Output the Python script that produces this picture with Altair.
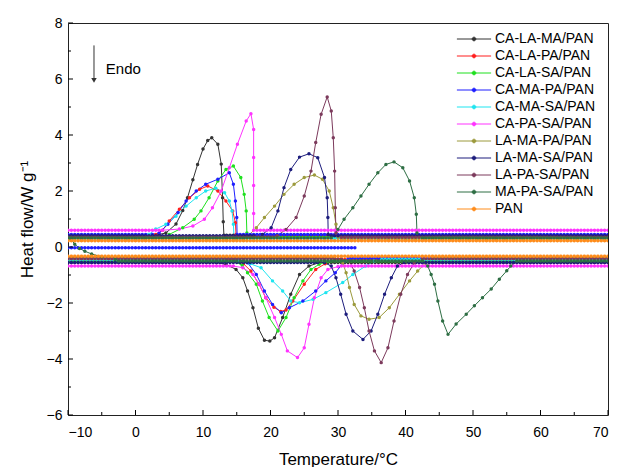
import altair as alt
import pandas as pd

# ---------------- data ----------------
SERIES = ["CA-LA-MA/PAN", "CA-LA-PA/PAN", "CA-LA-SA/PAN", "CA-MA-PA/PAN",
          "CA-MA-SA/PAN", "CA-PA-SA/PAN", "LA-MA-PA/PAN", "LA-MA-SA/PAN",
          "LA-PA-SA/PAN", "MA-PA-SA/PAN", "PAN"]
COLORS = ["#333333", "#ff1f1f", "#1fe01f", "#1f1fff", "#1fe5f0", "#ff33ff",
          "#9c9a3c", "#1c1c7c", "#7c3a5c", "#2e6e44", "#ff8c1a"]

UPPER_LEVEL = [0.42, 0.38, 0.35, 0.45, 0.30, 0.60, 0.30, 0.40, 0.35, 0.32, 0.22]
LOWER_LEVEL = [-0.55, -0.45, -0.50, -0.40, -0.45, -0.68, -0.38, -0.55, -0.42, -0.50, -0.33]

# baseline sampling temperatures (where the instrument recorded points)
GRID_T = [-10 + 0.5 * i for i in range(161)]

# heating (upper) peaks
CALAMA_HEAT_T = [3.5, 4.5, 6.0, 7.0, 7.7, 8.5, 9.2, 10.0, 10.7, 11.3, 12.2, 12.7, 12.9, 13.0, 13.1]
CALAMA_HEAT_Q = [0.45, 0.5, 0.82, 1.3, 1.76, 2.4, 2.95, 3.5, 3.8, 3.9, 3.67, 2.96, 1.76, 0.9, 0.42]
CALAPA_HEAT_T = [3.0, 4.0, 5.0, 6.5, 8.0, 9.5, 10.7, 12.2, 13.4, 14.4, 14.8, 14.9]
CALAPA_HEAT_Q = [0.45, 0.6, 0.93, 1.35, 1.76, 2.06, 2.18, 2.0, 1.64, 1.29, 0.87, 0.45]
CALASA_HEAT_T = [5.0, 7.0, 8.7, 9.7, 10.9, 12.2, 13.4, 14.5, 15.6, 16.1, 16.4, 16.5]
CALASA_HEAT_Q = [0.45, 0.69, 0.99, 1.29, 1.76, 2.36, 2.77, 2.89, 2.48, 1.88, 1.29, 0.5]
CAMAPA_HEAT_T = [2.5, 3.5, 4.8, 6.3, 7.5, 9.0, 10.4, 12.2, 13.9, 14.5, 14.8, 15.0, 15.05]
CAMAPA_HEAT_Q = [0.45, 0.5, 0.81, 1.23, 1.64, 2.0, 2.24, 2.42, 2.65, 2.24, 1.64, 1.05, 0.45]
CAMASA_HEAT_T = [2.0, 3.0, 4.5, 6.0, 7.5, 9.0, 10.4, 11.9, 13.2, 13.9, 14.3, 14.5, 14.6]
CAMASA_HEAT_Q = [0.45, 0.64, 0.81, 1.1, 1.46, 1.76, 2.0, 2.1, 1.94, 1.64, 1.29, 0.81, 0.35]
CAPASA_HEAT_T = [4.0, 6.5, 8.5, 10.2, 11.4, 12.7, 13.9, 15.1, 16.4, 17.1, 17.5, 17.5, 17.5, 17.5, 17.5]
CAPASA_HEAT_Q = [0.6, 0.64, 0.75, 0.99, 1.4, 2.0, 2.83, 3.67, 4.5, 4.76, 4.2, 3.2, 2.2, 1.2, 0.6]
LAMAPA_HEAT_T = [16.5, 17.9, 19.1, 20.6, 22.0, 23.5, 25.0, 26.5, 27.7, 28.7, 29.3, 29.7, 30.0]
LAMAPA_HEAT_Q = [0.35, 0.69, 1.05, 1.46, 1.88, 2.24, 2.48, 2.57, 2.42, 2.0, 1.4, 0.81, 0.35]
LAMASA_HEAT_T = [17.5, 18.8, 20.1, 21.1, 22.0, 23.0, 24.3, 25.7, 27.0, 28.0, 28.4, 28.5, 28.55]
LAMASA_HEAT_Q = [0.4, 0.45, 0.69, 1.29, 2.12, 2.77, 3.21, 3.33, 3.19, 2.48, 1.76, 1.05, 0.45]
LAPASA_HEAT_T = [21.0, 22.3, 23.8, 25.0, 26.0, 26.7, 27.5, 28.4, 29.0, 29.3, 29.5, 29.6, 29.7]
LAPASA_HEAT_Q = [0.4, 0.63, 1.05, 1.82, 2.71, 3.73, 4.74, 5.36, 4.86, 3.9, 2.71, 1.4, 0.5]
MAPASA_HEAT_T = [29.0, 30.0, 30.9, 32.2, 33.4, 34.6, 35.9, 37.1, 38.3, 39.6, 40.6, 41.3, 41.6, 41.7]
MAPASA_HEAT_Q = [0.32, 0.63, 0.99, 1.4, 1.82, 2.24, 2.65, 2.95, 3.04, 2.83, 2.36, 1.76, 1.17, 0.5]

# cooling (lower) peaks
CALAMA_COOL_T = [12.0, 13.4, 14.9, 15.9, 16.6, 17.4, 18.2, 19.1, 19.9, 20.6, 21.8, 23.0, 24.3, 25.7, 27.2, 28.5]
CALAMA_COOL_Q = [-0.56, -0.62, -0.8, -1.1, -1.57, -2.17, -2.9, -3.33, -3.36, -3.24, -2.52, -1.69, -0.98, -0.68, -0.56, -0.55]
CALAPA_COOL_T = [14.5, 16.0, 17.1, 18.3, 19.3, 20.5, 21.5, 22.3, 23.3, 25.0, 26.7, 28.1, 29.5]
CALAPA_COOL_Q = [-0.45, -0.6, -0.86, -1.33, -1.81, -2.15, -2.3, -2.25, -1.93, -1.33, -0.8, -0.6, -0.47]
CALASA_COOL_T = [14.5, 15.8, 16.6, 17.9, 18.8, 19.8, 21.1, 22.3, 23.5, 24.8, 26.0, 27.2, 28.5]
CALASA_COOL_Q = [-0.5, -0.65, -0.92, -1.33, -1.93, -2.52, -3.0, -2.52, -1.81, -1.21, -0.8, -0.62, -0.52]
CAMAPA_COOL_T = [15.0, 16.6, 17.9, 19.1, 20.3, 21.6, 22.8, 24.8, 26.7, 28.2, 29.6, 31.0]
CAMAPA_COOL_Q = [-0.42, -0.56, -0.98, -1.57, -2.05, -2.35, -2.17, -1.93, -1.57, -1.21, -0.92, -0.5]
CAMASA_COOL_T = [13.0, 15.4, 17.0, 18.6, 20.3, 21.8, 23.0, 24.3, 26.3, 28.2, 30.7, 32.2, 34.1, 35.4, 36.5]
CAMASA_COOL_Q = [-0.45, -0.5, -0.6, -0.74, -1.21, -1.57, -1.93, -1.99, -1.87, -1.63, -1.27, -0.98, -0.68, -0.5, -0.45]
CAPASA_COOL_T = [14.5, 15.9, 17.4, 18.3, 19.3, 20.6, 21.6, 22.5, 24.0, 25.0, 25.7, 26.5, 27.5, 28.5, 30.0]
CAPASA_COOL_Q = [-0.68, -0.74, -0.98, -1.33, -1.81, -2.52, -3.12, -3.71, -3.95, -3.6, -2.76, -1.81, -1.1, -0.8, -0.7]
LAMAPA_COOL_T = [29.5, 30.7, 31.2, 31.7, 32.4, 33.4, 34.6, 36.1, 37.6, 39.1, 40.6, 41.8, 43.0, 44.0]
LAMAPA_COOL_Q = [-0.4, -0.56, -0.92, -1.45, -2.05, -2.46, -2.58, -2.52, -2.17, -1.69, -1.21, -0.86, -0.56, -0.4]
LAMASA_COOL_T = [27.0, 28.0, 29.0, 29.7, 30.4, 31.2, 32.2, 33.7, 34.9, 35.9, 36.9, 37.9, 38.8, 39.8]
LAMASA_COOL_Q = [-0.55, -0.56, -0.68, -1.1, -1.69, -2.4, -3.0, -3.3, -3.0, -2.4, -1.69, -1.1, -0.68, -0.55]
LAPASA_COOL_T = [30.5, 31.7, 32.4, 33.2, 33.9, 34.6, 35.4, 36.4, 37.4, 38.3, 39.3, 40.3, 41.3, 42.5]
LAPASA_COOL_Q = [-0.42, -0.5, -0.86, -1.45, -2.17, -3.0, -3.71, -4.13, -3.6, -2.64, -1.69, -0.98, -0.56, -0.42]
MAPASA_COOL_T = [42.5, 43.3, 43.8, 44.3, 44.8, 45.5, 46.3, 47.5, 49.0, 50.2, 51.4, 52.7, 53.9, 55.0, 55.6, 56.5]
MAPASA_COOL_Q = [-0.5, -0.68, -0.98, -1.33, -1.93, -2.64, -3.12, -2.75, -2.4, -2.1, -1.81, -1.5, -1.15, -0.85, -0.68, -0.5]

# start of the MA-PA-SA cooling record (left edge)
MAPASA_START_T = [-9.6, -9.0, -8.3, -7.5, -6.5, -5.0, -3.0]
MAPASA_START_Q = [0.3, 0.1, -0.05, -0.15, -0.25, -0.35, -0.45]

# extra blue trace near zero
BLUE_LINE_END = 32.7
BLUE_LINE_LEVEL = -0.03

HEAT = [(CALAMA_HEAT_T, CALAMA_HEAT_Q), (CALAPA_HEAT_T, CALAPA_HEAT_Q), (CALASA_HEAT_T, CALASA_HEAT_Q),
        (CAMAPA_HEAT_T, CAMAPA_HEAT_Q), (CAMASA_HEAT_T, CAMASA_HEAT_Q), (CAPASA_HEAT_T, CAPASA_HEAT_Q),
        (LAMAPA_HEAT_T, LAMAPA_HEAT_Q), (LAMASA_HEAT_T, LAMASA_HEAT_Q), (LAPASA_HEAT_T, LAPASA_HEAT_Q),
        (MAPASA_HEAT_T, MAPASA_HEAT_Q), ([], [])]
COOL = [(CALAMA_COOL_T, CALAMA_COOL_Q), (CALAPA_COOL_T, CALAPA_COOL_Q), (CALASA_COOL_T, CALASA_COOL_Q),
        (CAMAPA_COOL_T, CAMAPA_COOL_Q), (CAMASA_COOL_T, CAMASA_COOL_Q), (CAPASA_COOL_T, CAPASA_COOL_Q),
        (LAMAPA_COOL_T, LAMAPA_COOL_Q), (LAMASA_COOL_T, LAMASA_COOL_Q), (LAPASA_COOL_T, LAPASA_COOL_Q),
        (MAPASA_COOL_T, MAPASA_COOL_Q), ([], [])]

X_MAJOR = [-10, 0, 10, 20, 30, 40, 50, 60, 70]
X_MINOR = [-5, 5, 15, 25, 35, 45, 55, 65]
Y_MAJOR = [-6, -4, -2, 0, 2, 4, 6, 8]
Y_MINOR = [-5, -3, -1, 1, 3, 5, 7]


def build_path(level, pts_t, pts_q, start=None):
    pts = []
    lo = pts_t[0] - 0.3 if pts_t else 999
    hi = pts_t[-1] + 0.3 if pts_t else 999
    first = -999
    if start is not None:
        pts += list(zip(start[0], start[1]))
        first = start[0][-1] + 0.3
    pts += [(t, level) for t in GRID_T if first < t < lo]
    pts += list(zip(pts_t, pts_q))
    pts += [(t, level) for t in GRID_T if t > hi]
    return pts


rows = []
for i, name in enumerate(SERIES):
    segs = {
        "heat": build_path(UPPER_LEVEL[i], *HEAT[i]),
        "cool": build_path(LOWER_LEVEL[i], *COOL[i],
                           start=(MAPASA_START_T, MAPASA_START_Q) if name == "MA-PA-SA/PAN" else None),
    }
    if name == "CA-MA-PA/PAN":
        segs["zero"] = [(t, BLUE_LINE_LEVEL) for t in GRID_T if t <= BLUE_LINE_END]
    for s, pts in segs.items():
        for k, (t, q) in enumerate(pts):
            rows.append({"series": name, "seg": name + s, "order": k, "T": t, "Q": q})
df = pd.DataFrame(rows)

W, H = 540, 392
xs = alt.Scale(domain=[-10, 70], nice=False, zero=False)
ys = alt.Scale(domain=[-6, 8], nice=False, zero=False)
cs = alt.Scale(domain=SERIES, range=COLORS)

FONT = "Liberation Sans"
LEG_SYMBOL = "M-3,0H3M0.32,0A0.32,0.32,0,1,1,-0.32,0A0.32,0.32,0,1,1,0.32,0"

lines = alt.Chart(df).mark_line(strokeWidth=1, clip=True).encode(
    x=alt.X("T:Q", scale=xs, title="Temperature/°C",
            axis=alt.Axis(values=X_MAJOR, format="d")),
    y=alt.Y("Q:Q", scale=ys, title="Heat flow/W g⁻¹",
            axis=alt.Axis(values=Y_MAJOR, format="d")),
    color=alt.Color("series:N", scale=cs, sort=SERIES,
                    legend=alt.Legend(title=None, orient="none", legendX=399, legendY=9,
                                      symbolType=LEG_SYMBOL, symbolSize=130,
                                      symbolStrokeWidth=1, labelOffset=14,
                                      labelFontSize=14, labelFont=FONT, labelColor="black",
                                      rowPadding=3, labelLimit=0, padding=0)),
    detail="seg:N",
    order="order:Q",
)

dots = alt.Chart(df).mark_circle(size=12, opacity=1, clip=True).encode(
    x=alt.X("T:Q", scale=xs),
    y=alt.Y("Q:Q", scale=ys),
    color=alt.Color("series:N", scale=cs, legend=None),
)

xmaj = alt.Chart(pd.DataFrame({"v": X_MAJOR})).mark_rule(color="black", strokeWidth=1).encode(
    x=alt.X("v:Q", scale=xs), y=alt.value(H), y2=alt.value(H - 5))
xmin = alt.Chart(pd.DataFrame({"v": X_MINOR})).mark_rule(color="black", strokeWidth=1).encode(
    x=alt.X("v:Q", scale=xs), y=alt.value(H), y2=alt.value(H - 3))
ymaj = alt.Chart(pd.DataFrame({"v": Y_MAJOR})).mark_rule(color="black", strokeWidth=1).encode(
    y=alt.Y("v:Q", scale=ys), x=alt.value(0), x2=alt.value(5))
ymin = alt.Chart(pd.DataFrame({"v": Y_MINOR})).mark_rule(color="black", strokeWidth=1).encode(
    y=alt.Y("v:Q", scale=ys), x=alt.value(0), x2=alt.value(3))

ann = pd.DataFrame({"T": [-6.15], "Q": [7.2], "Q2": [5.95], "label": ["Endo"]})
arrow = alt.Chart(ann).mark_rule(color="#333333", strokeWidth=1).encode(
    x=alt.X("T:Q", scale=xs), y=alt.Y("Q:Q", scale=ys), y2="Q2:Q")
head = alt.Chart(ann).mark_point(shape="triangle-down", filled=True, color="#333333",
                                 size=30, opacity=1).encode(
    x=alt.X("T:Q", scale=xs), y=alt.Y("Q2:Q", scale=ys))
endo = alt.Chart(pd.DataFrame({"T": [-4.4], "Q": [6.35], "label": ["Endo"]})).mark_text(
    align="left", baseline="middle", font=FONT, fontSize=15, color="black").encode(
    x=alt.X("T:Q", scale=xs), y=alt.Y("Q:Q", scale=ys), text="label:N")

chart = alt.layer(lines, dots, xmaj, xmin, ymaj, ymin, arrow, head, endo).properties(
    width=W, height=H,
    padding={"left": 10, "top": 8, "right": 4, "bottom": 0},
).configure_view(stroke="#222222", strokeWidth=1).configure_axis(
    domain=False, ticks=False, grid=False,
    labelFont=FONT, labelFontSize=14, labelColor="black",
    titleFont=FONT, titleFontSize=17, titleColor="black", titleFontWeight="normal",
).configure_axisX(labelPadding=10, titlePadding=12).configure_axisY(
    labelPadding=6, titlePadding=10)

chart.save("out.html", embed_options={"renderer": "svg", "actions": False})
